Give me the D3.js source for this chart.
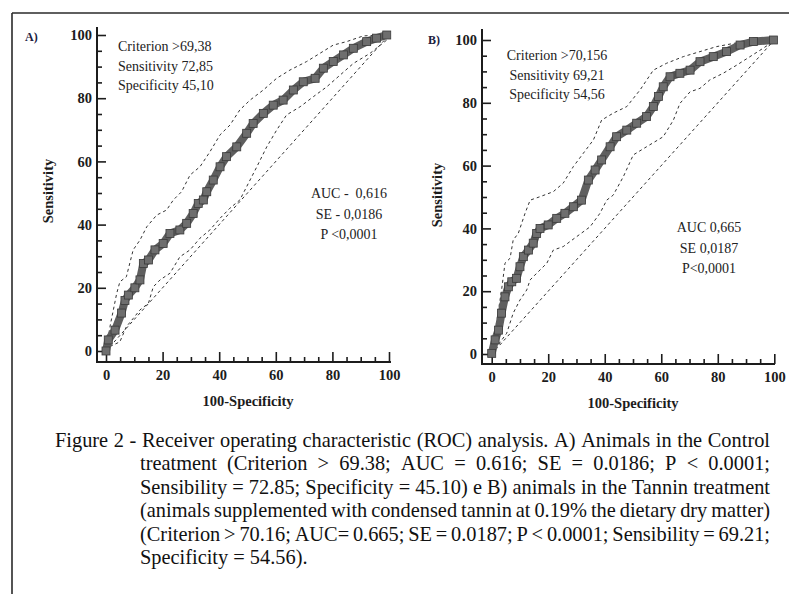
<!DOCTYPE html>
<html><head><meta charset="utf-8">
<script src="https://cdn.jsdelivr.net/npm/d3@7"></script>
<style>body{margin:0;background:#fff} svg{display:block}</style>
</head><body>
<svg id="chart" width="789" height="594"></svg>
<script>
// ---------------- data ----------------
const axisTicks = [0, 20, 40, 60, 80, 100];
const minorTicks = [5, 10, 15, 25, 30, 35, 45, 50, 55, 65, 70, 75, 85, 90, 95];

// Panel A (Control)
const rocA_fpr  = [0, 0.8, 3.2, 5.5, 6.7, 7.9, 10.2, 12, 13.2, 15, 17.3, 20.2, 22.6, 26.1, 28.5, 30.8, 32.6, 34.4, 35.6, 37.9, 40.3, 42.6, 46.2, 49.7, 52, 55.6, 59.1, 62.6, 66.2, 69.7, 73.9, 76.8, 80.3, 83.9, 87.4, 92.1, 95.6, 99.2];
const rocA_sens = [0, 3.5, 6.6, 12, 16, 17.7, 20, 22.5, 27.7, 28.8, 32, 34, 37.2, 38.3, 40.4, 43.5, 46.7, 47.8, 50.4, 54.1, 58.3, 61.5, 64.6, 68.9, 72, 75.2, 77.8, 79.4, 82.6, 85.2, 86.3, 89.5, 91.6, 93.7, 95.8, 97.9, 99, 100];
const upA_fpr  = [0, 1.4, 3.8, 4.9, 7.2, 9.6, 12, 14.4, 17.9, 21.4, 23.8, 26.7, 29.7, 33.2, 36.7, 40.3, 43.8, 47.3, 50.9, 55.6, 60.3, 65, 70.9, 75.6, 80.3, 85, 90.9, 96.8, 100];
const upA_sens = [0, 7.7, 18.3, 21.9, 23.5, 32, 35.1, 39.3, 43, 44.6, 47.8, 50.4, 55.7, 58.3, 63, 68.4, 71.5, 76.3, 79.4, 82.6, 86.3, 88.9, 91.6, 94.2, 96.8, 97.9, 99.7, 100, 100];
const loA_fpr  = [0, 1.4, 4.9, 7.2, 9.6, 12, 15, 16.7, 19.1, 22.6, 26.1, 29.7, 33.2, 36.7, 40.3, 43.8, 47.3, 49.7, 53.3, 56.8, 60.3, 63.8, 68.6, 73.3, 78, 82.7, 87.4, 93.3, 99.2, 100];
const loA_sens = [0, 1.4, 2.9, 7.7, 10.3, 13, 15.1, 20.3, 22.5, 24.6, 29.8, 32, 35.7, 38.3, 42, 45.2, 47.8, 52, 58.3, 64.6, 69.9, 74.7, 77.3, 80.5, 83.6, 87.3, 91, 94.2, 98.4, 100];

// Panel B (Tannin)
const rocB_fpr  = [0, 1.2, 2.4, 3.5, 4.7, 5.9, 7.1, 8.8, 10, 11.2, 13, 14.7, 15.9, 17.1, 20, 23, 25.9, 28.9, 31.8, 34.2, 36.6, 38.9, 41.9, 44.2, 47.8, 51.3, 54.8, 57.2, 59, 60.7, 63.1, 66.6, 70.2, 73.7, 78.4, 83.1, 87.9, 92.6, 99.7];
const rocB_sens = [0.2, 4.5, 7.6, 13, 18.2, 21.4, 23, 24.1, 27.8, 31, 33.1, 35.3, 38.4, 40, 41.1, 43.2, 44.8, 46.9, 49, 55.4, 58.6, 61.8, 66, 69.2, 71.3, 73.5, 75.6, 78.8, 82, 85.1, 88.3, 89.4, 90.4, 93.1, 94.7, 96.3, 98.4, 99.5, 100];
const upB_fpr  = [0, 0.6, 2.4, 3.5, 4.7, 6.5, 7.6, 9.4, 11.8, 13.6, 17.1, 21.8, 25.3, 28.9, 32.4, 36, 38.9, 43, 47.8, 52.5, 57.2, 61.9, 67.8, 73.7, 79.6, 86.7, 93.8, 99.6];
const upB_sens = [0, 3.4, 14, 20.4, 28.9, 30.5, 36.3, 38.4, 44.8, 49, 50.1, 51.7, 54.4, 59.7, 63.9, 68.2, 74.5, 76.7, 78.8, 84.1, 90.4, 92.6, 94.7, 96.3, 97.9, 99.1, 99.8, 100];
const loB_fpr  = [0, 1.8, 5.3, 7.6, 10, 12.4, 13.6, 15.9, 19.5, 21.8, 25.3, 30.1, 34.8, 38.3, 40.7, 43, 46.6, 50.1, 54.8, 60.7, 64.3, 66.6, 70.2, 73.7, 77.2, 81.9, 86.7, 91.4, 96.1, 99.6];
const loB_sens = [0, 2.3, 6.6, 13, 17.2, 20.4, 23.6, 25.7, 28.9, 33.1, 34.2, 37.4, 40.5, 44.8, 49, 50.6, 56.5, 63.4, 66, 69.2, 74.5, 79.8, 83.5, 84.6, 87.3, 89.4, 92, 94.7, 97.4, 99.5];

// reference diagonal
const diag_fpr = [0, 100];
const diag_sens = [0, 100];

const annotA = ["Criterion >69,38", "Sensitivity 72,85", "Specificity 45,10"];
const statsA = ["AUC -  0,616", "SE - 0,0186", "P <0,0001"];
const annotB = ["Criterion >70,156", "Sensitivity 69,21", "Specificity 54,56"];
const statsB = ["AUC 0,665", "SE 0,0187", "P<0,0001"];
const panelLabels = ["A)", "B)"];
const xTitle = "100-Specificity";
const yTitle = "Sensitivity";

const captionLines = [
  "Figure 2 - Receiver operating characteristic (ROC) analysis. A) Animals in the Control",
  "treatment (Criterion > 69.38; AUC = 0.616; SE = 0.0186; P < 0.0001;",
  "Sensibility = 72.85; Specificity = 45.10) e B) animals in the Tannin treatment",
  "(animals supplemented with condensed tannin at 0.19% the dietary dry matter)",
  "(Criterion > 70.16; AUC= 0.665; SE = 0.0187; P < 0.0001; Sensibility = 69.21;",
  "Specificity = 54.56)."
];

// ---------------- layout ----------------
const svg = d3.select("#chart");
const SERIF = "'Liberation Serif','Times New Roman',serif";
const INK = "#1c1c1c";

// frame
svg.append("line").attr("x1", 12).attr("x2", 789).attr("y1", 13).attr("y2", 13)
  .attr("stroke", "#2a2a2a").attr("stroke-width", 1.6);
svg.append("line").attr("x1", 12).attr("x2", 12).attr("y1", 13).attr("y2", 594)
  .attr("stroke", "#2a2a2a").attr("stroke-width", 1.6);

const panels = [
  {
    label: panelLabels[0], labelPos: [25, 41],
    xr: [106, 389], yr: [351, 35], yAxisX: 97, xAxisY: 362, yTop: 27, xRight: 391,
    roc: [rocA_fpr, rocA_sens], up: [upA_fpr, upA_sens], lo: [loA_fpr, loA_sens],
    annot: annotA, annotPos: [118, 51], annotAnchor: "start",
    stats: statsA, statsPos: [349, 198],
    yTitlePos: [53, 191], xTitlePos: [248, 406]
  },
  {
    label: panelLabels[1], labelPos: [428, 44],
    xr: [491.7, 774.3], yr: [354, 40], yAxisX: 482, xAxisY: 364, yTop: 29, xRight: 775,
    roc: [rocB_fpr, rocB_sens], up: [upB_fpr, upB_sens], lo: [loB_fpr, loB_sens],
    annot: annotB, annotPos: [557, 60], annotAnchor: "middle",
    stats: statsB, statsPos: [709, 232],
    yTitlePos: [442, 195], xTitlePos: [633, 408]
  }
];

const zip = (a, b) => a.map((v, i) => [v, b[i]]);

panels.forEach(p => {
  const x = d3.scaleLinear().domain([0, 100]).range(p.xr);
  const y = d3.scaleLinear().domain([0, 100]).range(p.yr);
  const g = svg.append("g");

  // axis lines
  g.append("line").attr("x1", p.yAxisX).attr("x2", p.yAxisX).attr("y1", p.yTop).attr("y2", p.xAxisY + 1)
    .attr("stroke", INK).attr("stroke-width", 2);
  g.append("line").attr("x1", p.yAxisX - 1).attr("x2", p.xRight).attr("y1", p.xAxisY).attr("y2", p.xAxisY)
    .attr("stroke", INK).attr("stroke-width", 2);

  // axes with inward ticks
  const yAx = g.append("g").attr("transform", `translate(${p.yAxisX},0)`)
    .call(d3.axisLeft(y).tickValues(axisTicks).tickSize(-9).tickPadding(5).tickFormat(d3.format("d")));
  const yMin = g.append("g").attr("transform", `translate(${p.yAxisX},0)`)
    .call(d3.axisLeft(y).tickValues(minorTicks).tickSize(-5).tickFormat(""));
  const xAx = g.append("g").attr("transform", `translate(0,${p.xAxisY})`)
    .call(d3.axisBottom(x).tickValues(axisTicks).tickSize(-10).tickPadding(8).tickFormat(d3.format("d")));
  const xMin = g.append("g").attr("transform", `translate(0,${p.xAxisY})`)
    .call(d3.axisBottom(x).tickValues(minorTicks).tickSize(-5).tickFormat(""));
  [yAx, yMin, xAx, xMin].forEach(a => {
    a.select(".domain").remove();
    a.selectAll("line").attr("stroke", INK).attr("stroke-width", 1.6);
    a.selectAll("text").attr("font-family", SERIF).attr("font-weight", "bold")
      .attr("font-size", 14.5).attr("fill", INK);
  });

  // diagonal + CI bands (dashed)
  const line = d3.line().x(d => x(d[0])).y(d => y(d[1]));
  [zip(diag_fpr, diag_sens), zip(p.up[0], p.up[1]), zip(p.lo[0], p.lo[1])].forEach(d => {
    g.append("path").attr("d", line(d)).attr("fill", "none")
      .attr("stroke", "#333").attr("stroke-width", 1).attr("stroke-dasharray", "3,3");
  });

  // ROC curve: dense square markers
  const pts = zip(p.roc[0], p.roc[1]);
  g.append("path").attr("d", line(pts)).attr("fill", "none")
    .attr("stroke", "#5f5f5f").attr("stroke-width", 8).attr("stroke-linejoin", "round");
  g.selectAll("rect.m").data(pts).join("rect").attr("class", "m")
    .attr("x", d => x(d[0]) - 4).attr("y", d => y(d[1]) - 4)
    .attr("width", 8).attr("height", 8)
    .attr("fill", "#6e6e6e").attr("stroke", "#3a3a3a").attr("stroke-width", 0.8);

  // panel label
  g.append("text").attr("x", p.labelPos[0]).attr("y", p.labelPos[1]).text(p.label)
    .attr("font-family", SERIF).attr("font-weight", "bold").attr("font-size", 12).attr("fill", "#1b2040");

  // axis titles
  g.append("text").attr("transform", `translate(${p.yTitlePos[0]},${p.yTitlePos[1]}) rotate(-90)`)
    .attr("text-anchor", "middle").text(yTitle)
    .attr("font-family", SERIF).attr("font-weight", "bold").attr("font-size", 14.5).attr("fill", INK);
  g.append("text").attr("x", p.xTitlePos[0]).attr("y", p.xTitlePos[1]).attr("text-anchor", "middle").text(xTitle)
    .attr("font-family", SERIF).attr("font-weight", "bold").attr("font-size", 14.5).attr("fill", INK);

  // annotations
  p.annot.forEach((t, i) => {
    g.append("text").attr("x", p.annotPos[0]).attr("y", p.annotPos[1] + i * 19.5)
      .attr("text-anchor", p.annotAnchor).text(t)
      .attr("font-family", SERIF).attr("font-size", 14).attr("fill", "#222");
  });
  p.stats.forEach((t, i) => {
    g.append("text").attr("x", p.statsPos[0]).attr("y", p.statsPos[1] + i * 20.5)
      .attr("text-anchor", "middle").attr("xml:space", "preserve").style("white-space", "pre").text(t)
      .attr("font-family", SERIF).attr("font-size", 14).attr("fill", "#222");
  });
});

// ---------------- caption (justified) ----------------
const capLeft0 = 55, capLeft = 140, capRight = 770, capTop = 447, capLead = 23.4;
// size the caption font so the naturally-spaced 3rd line fills the text block
const probe = svg.append("text").attr("font-family", SERIF).attr("font-size", 20).text(captionLines[2]);
const probeW = probe.node().getComputedTextLength();
probe.remove();
const capSize = Math.max(15, Math.min(21, 20 * (capRight - capLeft) / probeW));

const cap = svg.append("g").attr("font-family", SERIF).attr("font-size", capSize).attr("fill", "#111");
captionLines.forEach((ln, i) => {
  const yy = capTop + i * capLead;
  const x0 = i === 0 ? capLeft0 : capLeft;
  const t = cap.append("text").attr("y", yy);
  const justify = i < captionLines.length - 1;
  if (!justify) { t.attr("x", x0).text(ln); return; }
  const words = ln.split(" ");
  const spans = words.map(w => t.append("tspan").text(w));
  const widths = spans.map(s => s.node().getComputedTextLength());
  const total = d3.sum(widths);
  const gap = (capRight - x0 - total) / (words.length - 1);
  let cx = x0;
  spans.forEach((s, k) => { s.attr("x", cx); cx += widths[k] + gap; });
});
</script>
</body></html>
